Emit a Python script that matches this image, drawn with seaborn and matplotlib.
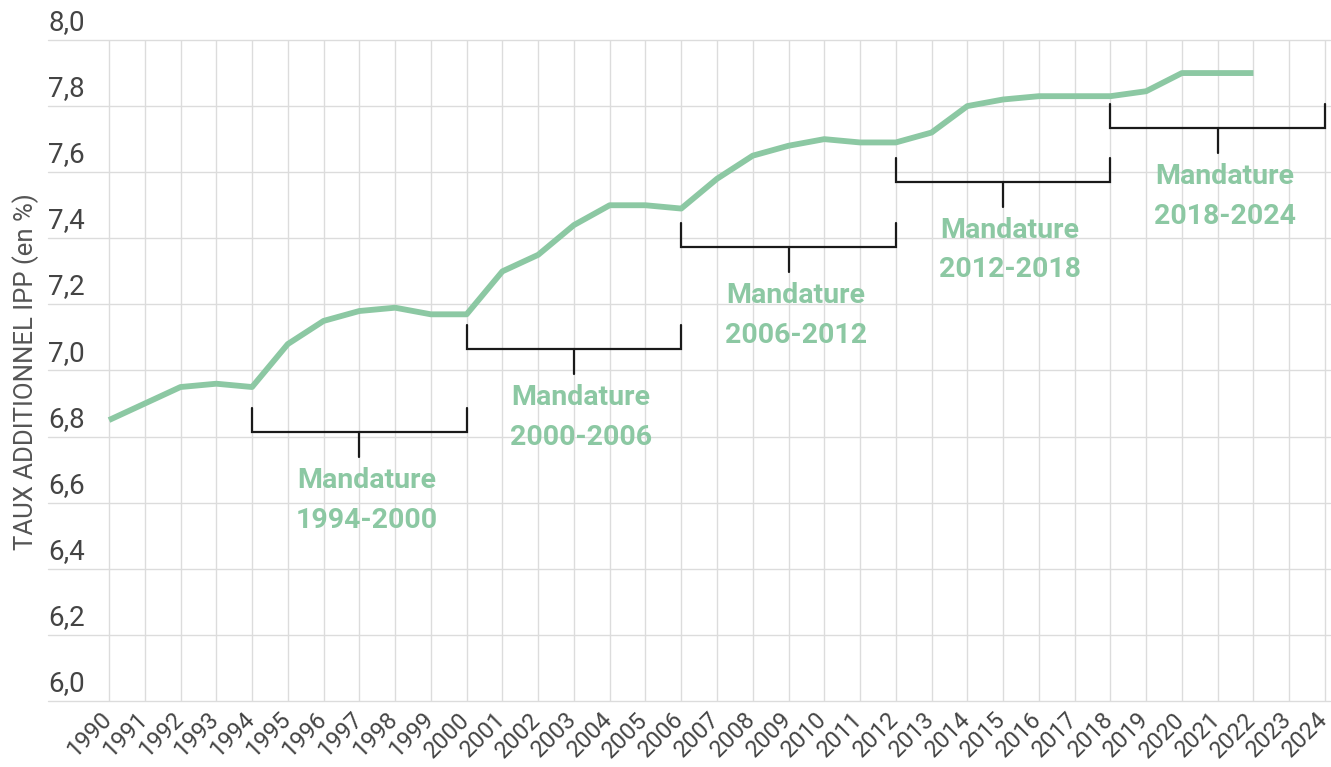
import matplotlib
matplotlib.use('Agg')
import matplotlib.pyplot as plt
import matplotlib.transforms as mtransforms
import numpy as np
import pandas as pd
import seaborn as sns

# taux additionnel IPP
YEARS = list(range(1990, 2023))
TAUX = [6.85, 6.90, 6.95, 6.96, 6.95, 7.08, 7.15, 7.18, 7.19, 7.17, 7.17,
        7.30, 7.35, 7.44, 7.50, 7.50, 7.49, 7.58, 7.65, 7.68, 7.70, 7.69,
        7.69, 7.72, 7.80, 7.82, 7.83, 7.83, 7.83, 7.845, 7.90, 7.90, 7.90]

# mandatures: start, end, level of the bracket
MANDAT_START = [1994, 2000, 2006, 2012, 2018]
MANDAT_END = [2000, 2006, 2012, 2018, 2024]
MANDAT_LEVEL = [6.814, 7.065, 7.374, 7.571, 7.734]

XTICKS = list(range(1990, 2025))
YTICKS = [6.0, 6.2, 6.4, 6.6, 6.8, 7.0, 7.2, 7.4, 7.6, 7.8, 8.0]

GREEN = '#8cc8a3'
GRID = '#dcdcdc'

sns.set_style('white')
plt.rcParams['font.family'] = ['Roboto', 'DejaVu Sans']

df = pd.DataFrame({'annee': YEARS, 'taux': TAUX})

fig = plt.figure(figsize=(13.31, 7.67), dpi=100)
ax = fig.add_axes([0.0362, 0.08605, 0.9633, 0.8618])

ax.set_xlim(1988.3, 2024.15)
ax.set_ylim(6.0, 8.0)

# grid
for yv in YTICKS:
    ax.axhline(yv, color=GRID, lw=1, zorder=0, clip_on=False)
for xv in XTICKS:
    ax.axvline(xv, color=GRID, lw=1, zorder=0)

sns.lineplot(data=df, x='annee', y='taux', ax=ax, color=GREEN, lw=4.2,
             solid_capstyle='butt', solid_joinstyle='round', zorder=3)

# brackets + labels
up, down = 0.072, 0.075
for s, e, lv in zip(MANDAT_START, MANDAT_END, MANDAT_LEVEL):
    mid = (s + e) / 2
    ax.plot([s, s, e, e], [lv + up, lv, lv, lv + up], color='#1a1a1a', lw=1.6,
            solid_joinstyle='miter', zorder=4, clip_on=False)
    ax.plot([mid, mid], [lv, lv - down], color='#1a1a1a', lw=1.6, zorder=4)
    ax.text(mid + 0.2, lv - 0.207, f'Mandature\n{s}-{e}', ha='center', va='center',
            color=GREEN, fontsize=20.5, fontweight='bold', linespacing=1.6, zorder=5)

# y tick labels sit above their gridline, left-aligned
ax.set_yticks([])
for yv in YTICKS:
    ax.text(1988.3, yv + 0.012, f'{yv:.1f}'.replace('.', ','), ha='left', va='bottom',
            fontsize=20, color='#444444')

ax.set_xticks(XTICKS)
ax.set_xticklabels([str(y) for y in XTICKS], rotation=45, ha='right',
                   rotation_mode='anchor', fontsize=17, color='#444444')
ax.tick_params(axis='x', length=0, pad=5)
# nudge year labels left so 2024 stays inside the figure
shift = mtransforms.ScaledTranslation(-9 / 100, 0, fig.dpi_scale_trans)
for lab in ax.get_xticklabels():
    lab.set_transform(lab.get_transform() + shift)
ax.set_xlabel('')
ax.set_ylabel('')
fig.text(0.019, 0.515, 'TAUX ADDITIONNEL IPP (en %)', rotation=90, ha='center', va='center',
         fontsize=18.5, color='#555555')

sns.despine(ax=ax, left=True, bottom=True, top=True, right=True)

fig.savefig('out.png', dpi=100)
plt.close(fig)
